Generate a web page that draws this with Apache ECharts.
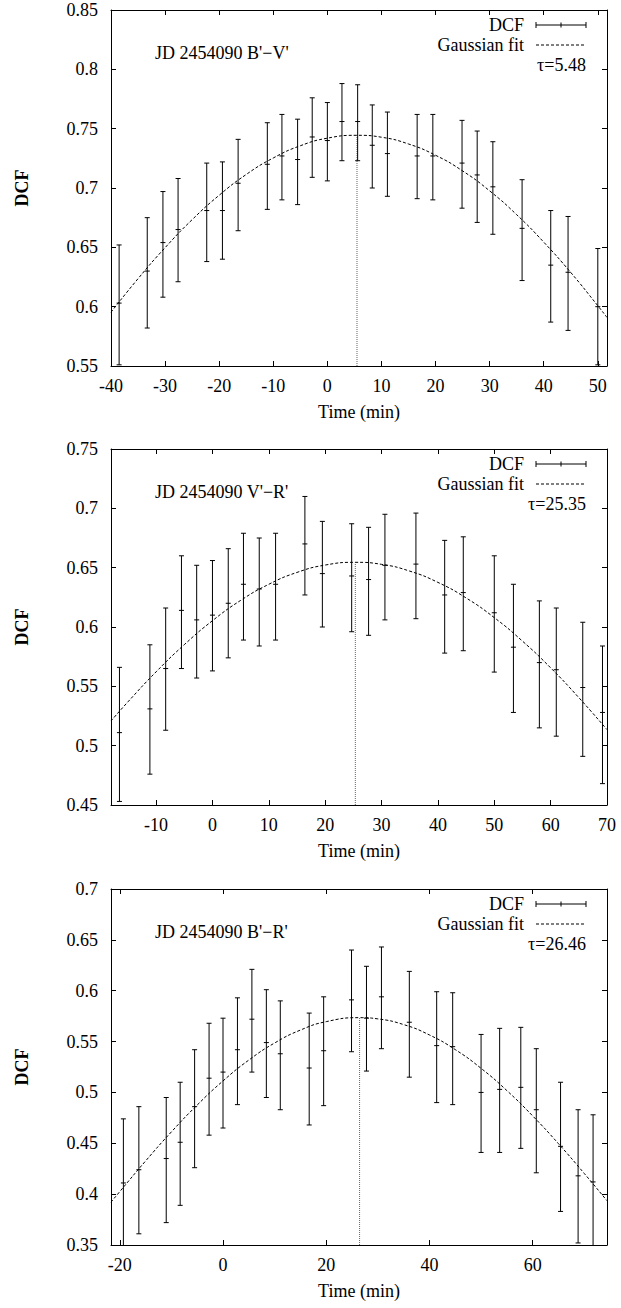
<!DOCTYPE html>
<html><head><meta charset="utf-8">
<script src="https://cdn.jsdelivr.net/npm/echarts@6/dist/echarts.min.js"></script>
<style>html,body{margin:0;padding:0;background:#fff}#c{width:621px;height:1308px}</style>
</head><body><div id="c"></div>
<script>
// ---------- Panel 1 : JD 2454090 B'−V' ----------
const p1Title = "JD 2454090 B'\u2212V'";
const p1TauLabel = "\u03c4=5.48";
const p1Tau = 5.48;
const p1Peak = 0.7444;
const p1XRange = [-40, 51.7];
const p1YRange = [0.55, 0.85];
const p1XStep = 10;
const p1Time = [-38.5, -33.3, -30.4, -27.6, -22.3, -19.4, -16.5, -11.1, -8.4, -5.5, -2.8, 0.0, 2.7, 5.6, 8.3, 11.1, 16.6, 19.5, 24.9, 27.7, 30.6, 36.0, 41.3, 44.5, 50.0];
const p1Dcf  = [0.603, 0.630, 0.654, 0.665, 0.681, 0.681, 0.704, 0.720, 0.727, 0.724, 0.743, 0.740, 0.756, 0.756, 0.736, 0.729, 0.727, 0.727, 0.721, 0.711, 0.701, 0.666, 0.635, 0.629, 0.600];
const p1High = [0.652, 0.675, 0.697, 0.708, 0.721, 0.722, 0.741, 0.755, 0.762, 0.758, 0.776, 0.772, 0.788, 0.787, 0.770, 0.764, 0.762, 0.762, 0.757, 0.748, 0.739, 0.707, 0.681, 0.676, 0.649];
const p1Low  = [0.551, 0.582, 0.608, 0.621, 0.638, 0.640, 0.664, 0.682, 0.690, 0.686, 0.709, 0.706, 0.723, 0.723, 0.700, 0.693, 0.691, 0.690, 0.683, 0.671, 0.661, 0.622, 0.587, 0.580, 0.551];
const p1FitTime  = [-40, -35, -30, -25, -20, -15, -10, -5, 0, 5.48, 10, 15, 20, 25, 30, 35, 40, 45, 50, 51.7];
const p1FitValue = [0.5953, 0.6236, 0.6497, 0.6733, 0.6939, 0.7114, 0.7253, 0.7356, 0.7420, 0.7444, 0.7428, 0.7371, 0.7276, 0.7144, 0.6976, 0.6775, 0.6544, 0.6288, 0.6008, 0.5909];

// ---------- Panel 2 : JD 2454090 V'−R' ----------
const p2Title = "JD 2454090 V'\u2212R'";
const p2TauLabel = "\u03c4=25.35";
const p2Tau = 25.35;
const p2Peak = 0.6545;
const p2XRange = [-18, 70];
const p2YRange = [0.45, 0.75];
const p2XStep = 10;
const p2Time = [-16.5, -11.1, -8.3, -5.5, -2.8, 0.0, 2.8, 5.5, 8.3, 11.2, 16.4, 19.5, 24.7, 27.7, 30.6, 36.1, 41.2, 44.5, 50.0, 53.4, 58.0, 61.0, 65.7, 69.2];
const p2Dcf  = [0.511, 0.531, 0.565, 0.614, 0.606, 0.610, 0.620, 0.636, 0.632, 0.636, 0.670, 0.645, 0.643, 0.640, 0.652, 0.653, 0.627, 0.629, 0.612, 0.583, 0.570, 0.564, 0.549, 0.528];
const p2High = [0.566, 0.585, 0.616, 0.660, 0.652, 0.656, 0.666, 0.679, 0.675, 0.679, 0.710, 0.689, 0.687, 0.684, 0.695, 0.696, 0.673, 0.676, 0.660, 0.636, 0.622, 0.616, 0.604, 0.584];
const p2Low  = [0.453, 0.476, 0.513, 0.565, 0.557, 0.563, 0.574, 0.589, 0.584, 0.589, 0.627, 0.600, 0.596, 0.593, 0.606, 0.607, 0.578, 0.580, 0.562, 0.528, 0.515, 0.508, 0.491, 0.468];
const p2FitTime  = [-18, -15, -10, -5, 0, 5, 10, 15, 20, 25.35, 30, 35, 40, 45, 50, 55, 60, 65, 70];
const p2FitValue = [0.5208, 0.5369, 0.5622, 0.5851, 0.6053, 0.6224, 0.6360, 0.6460, 0.6522, 0.6545, 0.6528, 0.6471, 0.6376, 0.6245, 0.6079, 0.5881, 0.5656, 0.5405, 0.5135];

// ---------- Panel 3 : JD 2454090 B'−R' ----------
const p3Title = "JD 2454090 B'\u2212R'";
const p3TauLabel = "\u03c4=26.46";
const p3Tau = 26.46;
const p3Peak = 0.5735;
const p3XRange = [-21.7, 74.4];
const p3YRange = [0.35, 0.70];
const p3XStep = 20;
const p3Time = [-19.3, -16.3, -11.0, -8.3, -5.5, -2.7, 0.0, 2.8, 5.6, 8.4, 11.1, 16.7, 19.5, 24.9, 27.8, 30.7, 36.1, 41.4, 44.5, 50.0, 53.6, 57.7, 60.7, 65.4, 68.8, 71.7];
const p3Dcf  = [0.411, 0.424, 0.435, 0.451, 0.486, 0.514, 0.520, 0.542, 0.572, 0.549, 0.538, 0.524, 0.541, 0.591, 0.573, 0.594, 0.569, 0.546, 0.545, 0.500, 0.503, 0.505, 0.483, 0.447, 0.418, 0.412];
const p3High = [0.474, 0.486, 0.495, 0.510, 0.542, 0.568, 0.573, 0.593, 0.621, 0.601, 0.590, 0.578, 0.594, 0.640, 0.624, 0.643, 0.619, 0.599, 0.598, 0.557, 0.563, 0.564, 0.543, 0.510, 0.483, 0.478];
const p3Low  = [0.348, 0.361, 0.372, 0.389, 0.426, 0.458, 0.465, 0.488, 0.520, 0.495, 0.483, 0.468, 0.487, 0.540, 0.521, 0.543, 0.515, 0.490, 0.488, 0.441, 0.441, 0.445, 0.421, 0.383, 0.352, 0.346];
const p3FitTime  = [-21.7, -20, -15, -10, -5, 0, 5, 10, 15, 20, 26.46, 30, 35, 40, 45, 50, 55, 60, 65, 70, 74.4];
const p3FitValue = [0.3921, 0.4025, 0.4326, 0.4612, 0.4876, 0.5113, 0.5318, 0.5486, 0.5613, 0.5696, 0.5735, 0.5723, 0.5667, 0.5565, 0.5421, 0.5237, 0.5018, 0.4769, 0.4496, 0.4203, 0.3935];

const xName = 'Time (min)';
const yName = 'DCF';
const legendDcf = 'DCF';
const legendFit = 'Gaussian fit';

// ---------- layout / style ----------
const FONT = '"Liberation Serif", "Times New Roman", serif';
const FS = 18;
const GRID_LEFT = 111, GRID_RIGHT = 14, GRID_H = 356;
const panelTops = [10, 449, 889];

const panels = [
  {title: p1Title, tau: p1Tau, peak: p1Peak, tauLabel: p1TauLabel, xr: p1XRange, yr: p1YRange, step: p1XStep, t: p1Time, v: p1Dcf, hi: p1High, lo: p1Low, ft: p1FitTime, fv: p1FitValue},
  {title: p2Title, tau: p2Tau, peak: p2Peak, tauLabel: p2TauLabel, xr: p2XRange, yr: p2YRange, step: p2XStep, t: p2Time, v: p2Dcf, hi: p2High, lo: p2Low, ft: p2FitTime, fv: p2FitValue},
  {title: p3Title, tau: p3Tau, peak: p3Peak, tauLabel: p3TauLabel, xr: p3XRange, yr: p3YRange, step: p3XStep, t: p3Time, v: p3Dcf, hi: p3High, lo: p3Low, ft: p3FitTime, fv: p3FitValue}
];

function errRender(params, api) {
  const x = api.value(0), v = api.value(1), lo = api.value(2), hi = api.value(3);
  const pL = api.coord([x, lo]), pH = api.coord([x, hi]), pV = api.coord([x, v]);
  const c = 2.5, m = 2.5;
  const st = {stroke: '#000', lineWidth: 1};
  return {type: 'group', children: [
    {type: 'line', shape: {x1: pL[0], y1: pL[1], x2: pH[0], y2: pH[1]}, style: st},
    {type: 'line', shape: {x1: pL[0] - c, y1: pL[1], x2: pL[0] + c, y2: pL[1]}, style: st},
    {type: 'line', shape: {x1: pH[0] - c, y1: pH[1], x2: pH[0] + c, y2: pH[1]}, style: st},
    {type: 'line', shape: {x1: pV[0] - m, y1: pV[1], x2: pV[0] + m, y2: pV[1]}, style: st}
  ]};
}

const grid = [], xAxis = [], yAxis = [], series = [], graphic = [];
const axLine = {show: true, onZero: false, lineStyle: {color: '#000', width: 1}};
const tick = {show: true, inside: true, length: 5, lineStyle: {color: '#000', width: 1}};
const txt = {color: '#000', fontFamily: FONT, fontSize: FS};

panels.forEach((p, i) => {
  const top = panelTops[i];
  grid.push({left: GRID_LEFT, right: GRID_RIGHT, top: top, height: GRID_H, containLabel: false});
  const fmtX = (val) => {
    const q = val / p.step;
    return Math.abs(q - Math.round(q)) < 1e-6 ? String(Math.round(val)) : '';
  };
  xAxis.push({gridIndex: i, type: 'value', position: 'bottom', min: p.xr[0], max: p.xr[1],
    minInterval: p.step, maxInterval: p.step,
    axisLine: axLine, axisTick: tick, splitLine: {show: false},
    axisLabel: Object.assign({margin: 11, formatter: fmtX, showMinLabel: true, showMaxLabel: true}, txt),
    name: xName, nameLocation: 'middle', nameGap: 37, nameTextStyle: txt});
  xAxis.push({gridIndex: i, type: 'value', position: 'top', min: p.xr[0], max: p.xr[1],
    minInterval: p.step, maxInterval: p.step,
    axisLine: axLine, axisTick: tick, splitLine: {show: false}, axisLabel: {show: false}});
  yAxis.push({gridIndex: i, type: 'value', position: 'left', min: p.yr[0], max: p.yr[1], interval: 0.05,
    axisLine: axLine, axisTick: tick, splitLine: {show: false},
    axisLabel: Object.assign({margin: 13}, txt),
    name: yName, nameLocation: 'middle', nameGap: 80, nameRotate: 90,
    nameTextStyle: Object.assign({fontWeight: 'bold'}, txt)});
  yAxis.push({gridIndex: i, type: 'value', position: 'right', min: p.yr[0], max: p.yr[1], interval: 0.05,
    axisLine: axLine, axisTick: tick, splitLine: {show: false}, axisLabel: {show: false}});

  series.push({type: 'line', xAxisIndex: 2 * i, yAxisIndex: 2 * i, silent: true,
    data: [[p.tau, p.yr[0]], [p.tau, p.peak]], symbol: 'none',
    lineStyle: {color: '#666', width: 1, type: [1, 1]}, z: 1});
  series.push({type: 'custom', name: legendDcf, xAxisIndex: 2 * i, yAxisIndex: 2 * i, clip: true,
    renderItem: errRender, encode: {x: 0, y: [1, 2, 3]},
    data: p.t.map((x, k) => [x, p.v[k], p.lo[k], p.hi[k]]), z: 3});
  series.push({type: 'line', name: legendFit, xAxisIndex: 2 * i, yAxisIndex: 2 * i, smooth: true,
    data: p.ft.map((x, k) => [x, p.fv[k]]), symbol: 'none', clip: true,
    lineStyle: {color: '#000', width: 1, type: [3, 2]}, z: 2});

  const tf = FS + 'px ' + FONT;
  const sx0 = 536, sx1 = 586, tr = 524;
  graphic.push({type: 'text', x: tr, y: top + 15, style: {text: legendDcf, font: tf, fill: '#000', align: 'right', verticalAlign: 'middle'}});
  graphic.push({type: 'line', shape: {x1: sx0, y1: top + 15, x2: sx1, y2: top + 15}, style: {stroke: '#000', lineWidth: 1}});
  graphic.push({type: 'line', shape: {x1: sx0, y1: top + 12, x2: sx0, y2: top + 18}, style: {stroke: '#000', lineWidth: 1}});
  graphic.push({type: 'line', shape: {x1: sx1, y1: top + 12, x2: sx1, y2: top + 18}, style: {stroke: '#000', lineWidth: 1}});
  graphic.push({type: 'line', shape: {x1: (sx0 + sx1) / 2, y1: top + 12.5, x2: (sx0 + sx1) / 2, y2: top + 17.5}, style: {stroke: '#000', lineWidth: 1}});
  graphic.push({type: 'text', x: tr, y: top + 35, style: {text: legendFit, font: tf, fill: '#000', align: 'right', verticalAlign: 'middle'}});
  graphic.push({type: 'line', shape: {x1: sx0, y1: top + 35, x2: sx1, y2: top + 35}, style: {stroke: '#000', lineWidth: 1, lineDash: [3, 2]}});
  graphic.push({type: 'text', x: sx1, y: top + 55, style: {text: p.tauLabel, font: tf, fill: '#000', align: 'right', verticalAlign: 'middle'}});
  graphic.push({type: 'text', x: 155, y: top + 43, style: {text: p.title, font: tf, fill: '#000', align: 'left', verticalAlign: 'middle'}});
});

const chart = echarts.init(document.getElementById('c'), null, {renderer: 'svg', width: 621, height: 1308});
chart.setOption({animation: false, backgroundColor: '#fff', grid, xAxis, yAxis, series, graphic});
</script>
</body></html>
